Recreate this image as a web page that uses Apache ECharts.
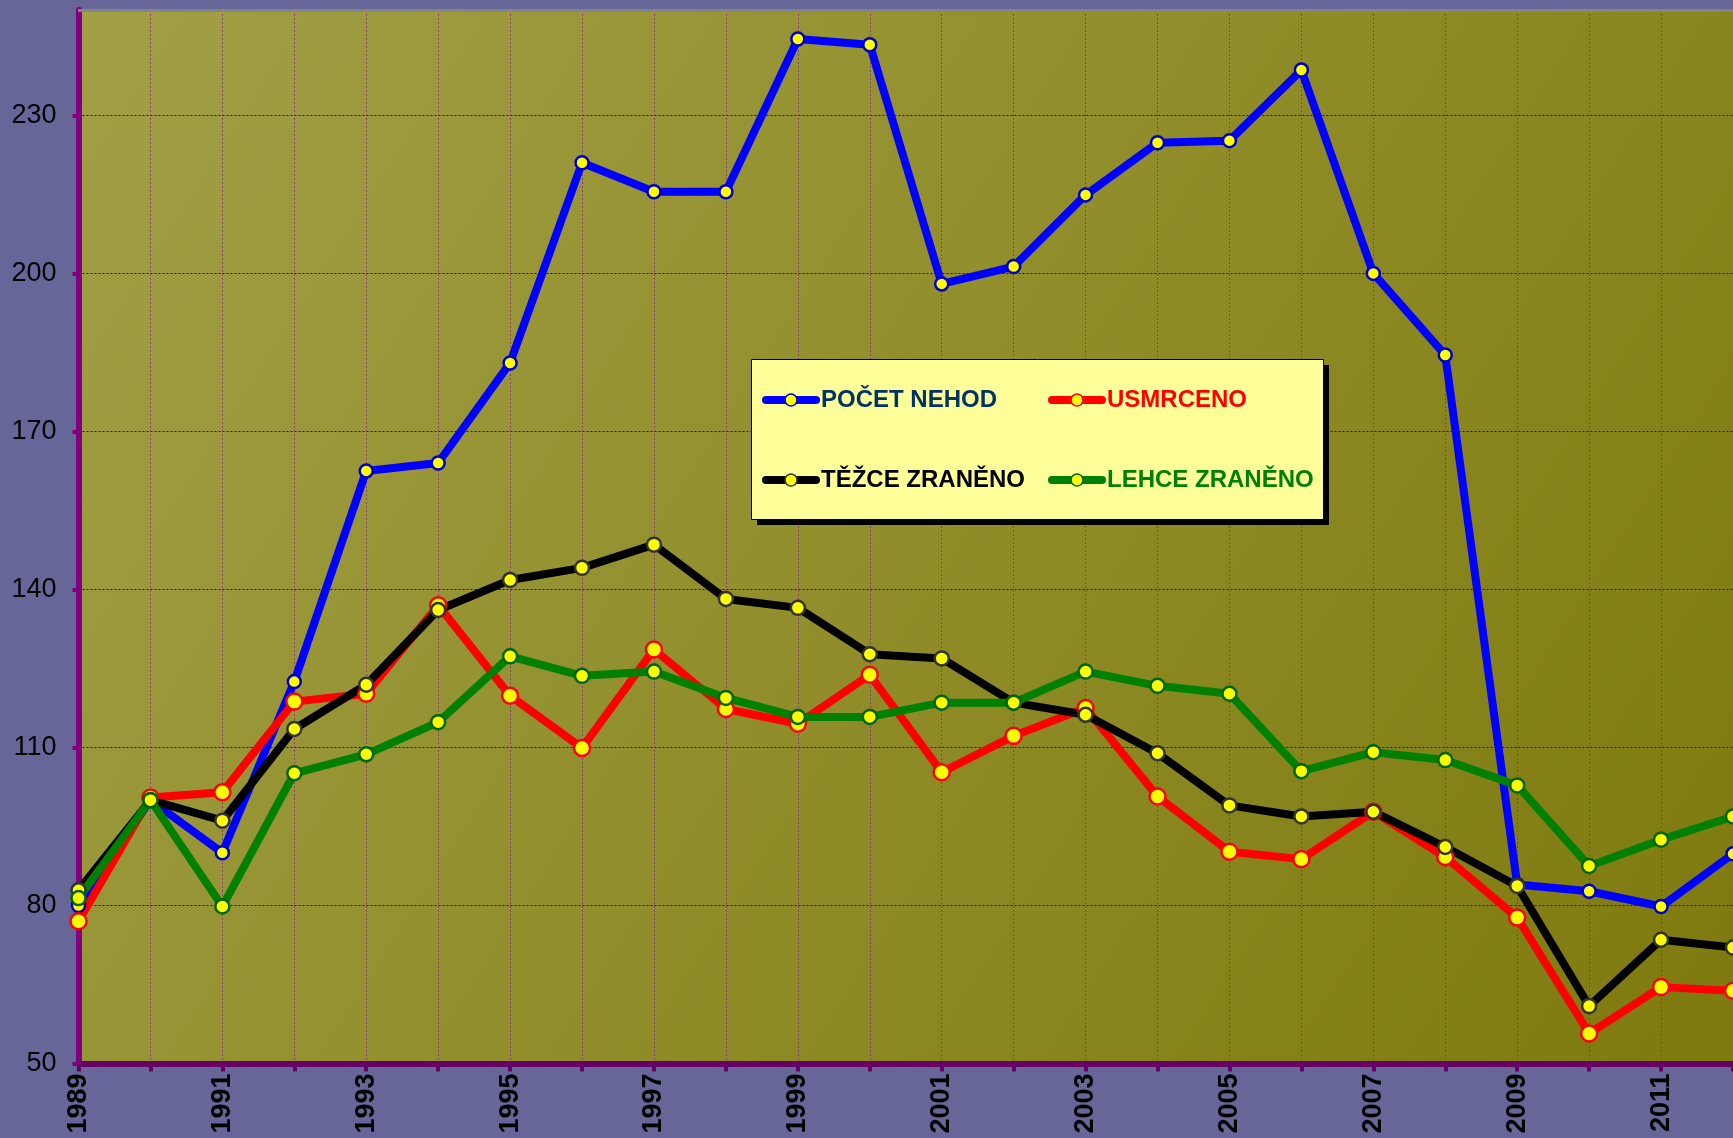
<!DOCTYPE html>
<html>
<head>
<meta charset="utf-8">
<script src="https://cdn.jsdelivr.net/npm/echarts@6/dist/echarts.min.js"></script>
<style>
  html, body { margin: 0; padding: 0; background: #666699; }
  #chart { width: 1733px; height: 1138px; }
</style>
</head>
<body>
<div id="chart"></div>
<script>
// roky 1989 - 2012
const years = ['1989', '1990', '1991', '1992', '1993', '1994', '1995', '1996', '1997', '1998', '1999', '2000',
  '2001', '2002', '2003', '2004', '2005', '2006', '2007', '2008', '2009', '2010', '2011', '2012'];
const yTicks = [50, 80, 110, 140, 170, 200, 230];

// počet nehod
const pocetNehod = [80, 100, 90, 122.5, 162.5, 164, 183, 221, 215.5, 215.5, 244.5, 243.4,
  198, 201.3, 214.9, 224.8, 225.2, 238.6, 200, 184.5, 84, 82.7, 79.8, 89.8];
// usmrceno
const usmrceno = [77, 100.5, 101.5, 118.7, 120.2, 137, 119.8, 109.9, 128.6, 117.3, 114.5, 123.8,
  105.3, 112.2, 117.5, 100.7, 90.2, 88.8, 97.8, 89.2, 77.7, 55.7, 64.5, 63.8];
// těžce zraněno
const tezceZraneno = [82.9, 100, 96.1, 113.5, 121.9, 136.1, 141.8, 144.1, 148.5, 138.2, 136.5, 127.7,
  126.9, 118.5, 116.2, 108.9, 99, 96.9, 97.8, 91.1, 83.7, 60.9, 73.5, 72];
// lehce zraněno
const lehceZraneno = [81.4, 100, 79.8, 105.1, 108.7, 114.8, 127.3, 123.6, 124.4, 119.4, 115.8, 115.8,
  118.5, 118.5, 124.4, 121.7, 120.2, 105.5, 109.1, 107.6, 102.8, 87.5, 92.5, 96.9];

const chart = echarts.init(document.getElementById('chart'));

function lineSeries(name, data, color, borderColor, size) {
  return {
    name: name,
    type: 'line',
    data: data,
    symbol: 'circle',
    symbolSize: size,
    lineStyle: { width: 8, color: color, join: 'round', cap: 'round' },
    itemStyle: { color: '#FFFF00', borderColor: borderColor, borderWidth: 2.5 },
    emphasis: { disabled: true }
  };
}

// společné nastavení legendy (dva sloupce)
function legendCol(left, items) {
  return {
    left: left, top: 386,
    orient: 'vertical',
    itemGap: 52,
    itemWidth: 50, itemHeight: 15,
    padding: 0,
    lineStyle: { width: 8, cap: 'round' },
    itemStyle: { borderWidth: 1.5 },
    selectedMode: false,
    textStyle: { fontSize: 24, fontWeight: 'bold', fontFamily: 'Liberation Sans', lineHeight: 28 },
    data: items
  };
}

chart.setOption({
  animation: false,
  backgroundColor: '#666699',
  textStyle: { fontFamily: 'Liberation Sans, Arial, sans-serif' },
  grid: {
    left: 78.5, right: -3, top: 10, bottom: 74.5,
    show: true,
    borderWidth: 0,
    backgroundColor: {
      type: 'linear', x: 0, y: 0, x2: 1, y2: 1,
      colorStops: [{ offset: 0, color: '#A2A046' }, { offset: 1, color: '#7E7A0E' }]
    }
  },
  graphic: [{
    type: 'rect', shape: { x: 78, y: 9, width: 1660, height: 3 },
    style: { fill: '#858585' }, z: 5
  }, {
    // stín rámečku legendy
    type: 'rect', shape: { x: 757, y: 365, width: 572, height: 160 },
    style: { fill: '#000' }, z: 3
  }, {
    type: 'rect', shape: { x: 751.5, y: 359.5, width: 572, height: 160 },
    style: { fill: '#FFFF99', stroke: '#000', lineWidth: 1 },
    z: 3
  }],
  legend: [
    legendCol(762, [
      { name: 'POČET NEHOD', textStyle: { color: '#003366' } },
      { name: 'TĚŽCE ZRANĚNO', textStyle: { color: '#000000' } }
    ]),
    legendCol(1048, [
      { name: 'USMRCENO', textStyle: { color: '#FF0000' } },
      { name: 'LEHCE ZRANĚNO', textStyle: { color: '#008000' } }
    ])
  ],
  xAxis: {
    type: 'category',
    data: years,
    boundaryGap: false,
    axisLine: { lineStyle: { color: '#660066', width: 6 } },
    axisTick: { show: true, interval: 0, length: 8, lineStyle: { color: '#660066', width: 4 } },
    axisLabel: { interval: 1, rotate: 90, margin: 10, fontSize: 27, fontWeight: 'bold', color: '#000' },
    splitLine: { show: true, interval: 0, lineStyle: { color: '#8B2F8B', type: [2, 2], width: 1, opacity: 0.85 } }
  },
  yAxis: {
    type: 'value',
    min: 50, max: 250, interval: 30,
    axisLine: { show: true, lineStyle: { color: '#800080', width: 6 } },
    axisTick: { show: true, length: 6, customValues: yTicks, lineStyle: { color: '#800080', width: 4 } },
    axisLabel: { customValues: yTicks, margin: 22, fontSize: 27, color: '#000' },
    splitLine: { show: true, lineStyle: { color: '#1a1a1a', type: [2, 2], width: 1 } }
  },
  series: [
    lineSeries('POČET NEHOD', pocetNehod, '#0000FF', '#0000CC', 13),
    lineSeries('USMRCENO', usmrceno, '#FF0000', '#FF0000', 16),
    lineSeries('TĚŽCE ZRANĚNO', tezceZraneno, '#000000', '#333333', 14),
    lineSeries('LEHCE ZRANĚNO', lehceZraneno, '#008000', '#006600', 14)
  ]
});
</script>
</body>
</html>
